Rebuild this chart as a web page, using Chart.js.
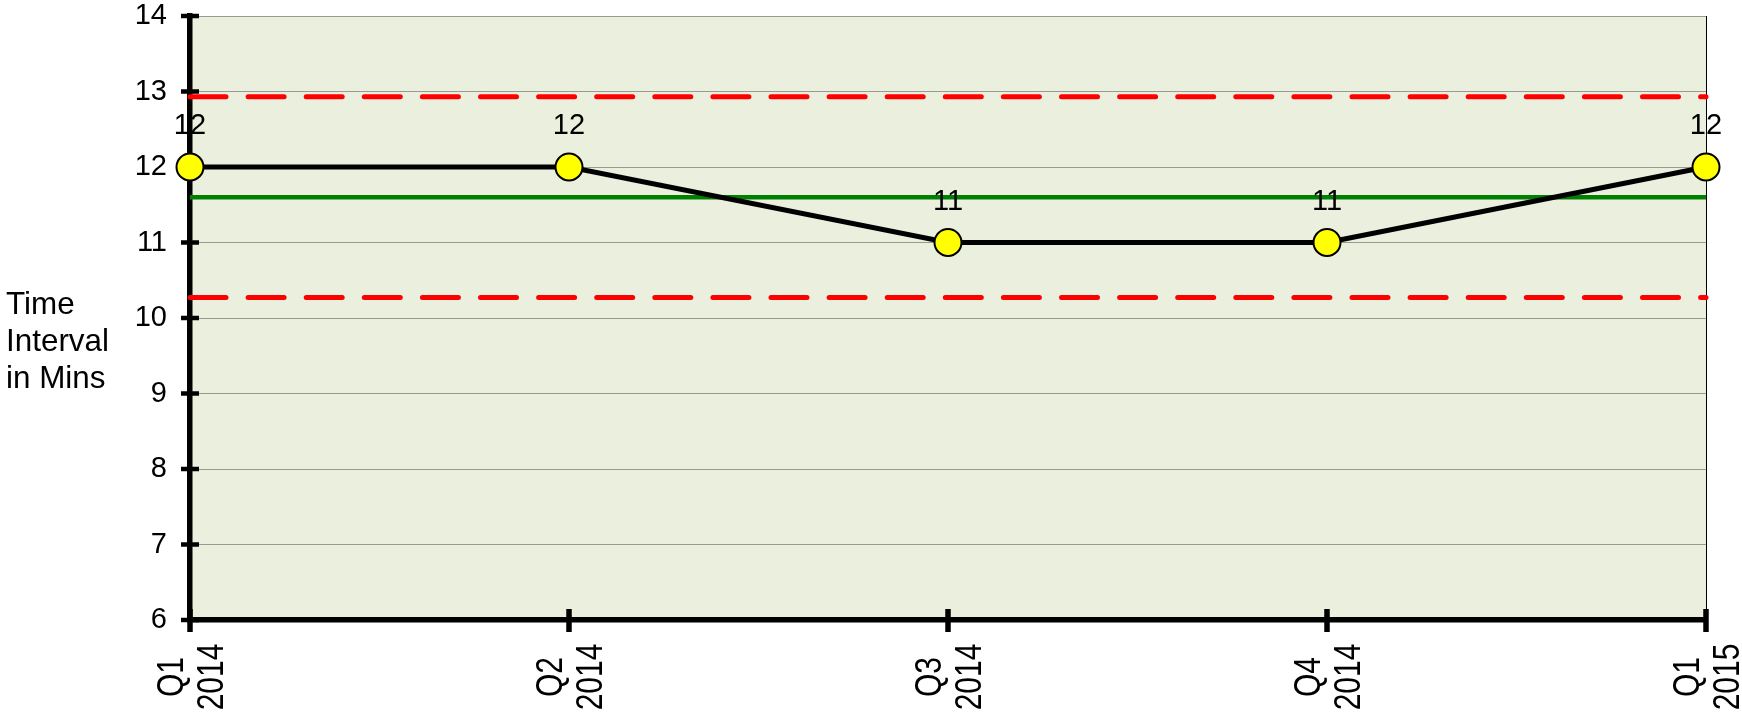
<!DOCTYPE html>
<html><head><meta charset="utf-8">
<script src="https://cdn.jsdelivr.net/npm/chart.js@4"></script>
<style>html,body{margin:0;padding:0;background:#fff}#wrap{width:1742px;height:714px;position:relative}</style>
</head><body><div id="wrap"><canvas id="c"></canvas></div>
<script>
// ---- data ----
const categories = [['Q1','2014'],['Q2','2014'],['Q3','2014'],['Q4','2014'],['Q1','2015']];
const intervalValues = [12, 12, 11, 11, 12];
const upperLimitValues = [12.93, 12.93, 12.93, 12.93, 12.93];
const meanValues = [11.6, 11.6, 11.6, 11.6, 11.6];
const lowerLimitValues = [10.27, 10.27, 10.27, 10.27, 10.27];
const yTickValues = [6, 7, 8, 9, 10, 11, 12, 13, 14];
const yTitleLines = ['Time', 'Interval', 'in Mins'];

const FONT = "'Liberation Sans', Arial, Helvetica, sans-serif";

const deco = {
  id: 'deco',
  beforeDraw(chart) {
    const {ctx, chartArea: a} = chart;
    ctx.save();
    ctx.fillStyle = '#EBEFDE';
    ctx.fillRect(a.left, a.top, a.right - a.left, a.bottom - a.top);
    ctx.restore();
  },
  beforeDatasetsDraw(chart) {
    const {ctx, chartArea: a, scales} = chart;
    const xs = scales.x, ys = scales.y;
    ctx.save();
    ctx.strokeStyle = '#000';
    ctx.lineWidth = 1;
    ctx.beginPath();
    ctx.moveTo(Math.round(a.right) + 0.5, a.top);
    ctx.lineTo(Math.round(a.right) + 0.5, a.bottom);
    ctx.stroke();
    ctx.lineWidth = 4.5;
    ys.ticks.forEach(t => {
      const y = ys.getPixelForValue(t.value);
      ctx.beginPath();
      ctx.moveTo(a.left - 9, y);
      ctx.lineTo(a.left + 9, y);
      ctx.stroke();
    });
    ctx.lineWidth = 5.5;
    categories.forEach((c, i) => {
      const x = xs.getPixelForValue(i);
      ctx.beginPath();
      ctx.moveTo(x, a.bottom - 11);
      ctx.lineTo(x, a.bottom + 12);
      ctx.stroke();
    });
    ctx.restore();
  },
  afterDatasetsDraw(chart) {
    const {ctx, scales} = chart;
    const xs = scales.x;
    ctx.save();
    ctx.fillStyle = '#000';
    const meta = chart.getDatasetMeta(0);
    ctx.font = '29px ' + FONT;
    ctx.textAlign = 'center';
    ctx.textBaseline = 'alphabetic';
    meta.data.forEach((pt, i) => {
      ctx.fillText(String(intervalValues[i]), pt.x, pt.y - 33);
    });
    ctx.font = '30px ' + FONT;
    categories.forEach((lines, i) => {
      const x = xs.getPixelForValue(i);
      lines.forEach((txt, j) => {
        const lx = x + (j - (lines.length - 1) / 2) * 40;
        ctx.save();
        ctx.translate(lx, 677);
        ctx.rotate(-Math.PI / 2);
        ctx.scale(1, 1.2);
        ctx.textAlign = 'center';
        ctx.textBaseline = 'alphabetic';
        ctx.fillText(txt, 0, 10.7);
        ctx.restore();
      });
    });
    ctx.font = '32px ' + FONT;
    ctx.textAlign = 'left';
    ctx.textBaseline = 'alphabetic';
    const w = ctx.measureText('Interval').width;
    const sx = w > 0 ? 103 / w : 1;
    yTitleLines.forEach((txt, j) => {
      ctx.save();
      ctx.translate(6, 314 + j * 37);
      ctx.scale(sx, 1);
      ctx.fillText(txt, 0, 0);
      ctx.restore();
    });
    ctx.restore();
  }
};

new Chart(document.getElementById('c'), {
  type: 'line',
  data: {
    labels: categories,
    datasets: [
      {
        label: 'Time Interval',
        data: intervalValues,
        borderColor: '#000',
        borderWidth: 5,
        pointRadius: 13.5,
        pointHoverRadius: 13.5,
        pointBackgroundColor: '#FFFF00',
        pointBorderColor: '#000',
        pointBorderWidth: 2,
        tension: 0,
        clip: false
      },
      {
        label: 'UCL',
        data: upperLimitValues,
        borderColor: '#FF0000',
        borderWidth: 5,
        borderDash: [36, 22.1],
        borderCapStyle: 'round',
        pointRadius: 0,
        clip: false
      },
      {
        label: 'Mean',
        data: meanValues,
        borderColor: '#008000',
        borderWidth: 4.5,
        pointRadius: 0,
        clip: false
      },
      {
        label: 'LCL',
        data: lowerLimitValues,
        borderColor: '#FF0000',
        borderWidth: 5,
        borderDash: [36, 22.1],
        borderCapStyle: 'round',
        pointRadius: 0,
        clip: false
      }
    ]
  },
  options: {
    responsive: true,
    maintainAspectRatio: false,
    animation: false,
    events: [],
    layout: { autoPadding: false, padding: { top: 16, right: 36, left: 0, bottom: 0 } },
    plugins: { legend: { display: false }, tooltip: { enabled: false } },
    scales: {
      x: {
        type: 'category',
        offset: false,
        grid: { display: false, drawTicks: false },
        border: { display: true, color: '#000', width: 5.5 },
        ticks: { display: false },
        afterFit(s) { s.height = 94; s.paddingLeft = 0; s.paddingRight = 0; }
      },
      y: {
        min: 6,
        max: 14,
        afterBuildTicks(s) { s.ticks = yTickValues.map(v => ({ value: v })); },
        grid: { color: '#444', lineWidth: 1, drawTicks: false },
        border: { display: true, color: '#000', width: 5.5, dash: [1, 1] },
        ticks: {
          color: '#000',
          padding: 23,
          font: { family: FONT, size: 29, lineHeight: 1 }
        },
        afterFit(s) { s.width = 190; s.paddingTop = 0; s.paddingBottom = 0; }
      }
    }
  },
  plugins: [deco]
});
</script>
</body></html>
